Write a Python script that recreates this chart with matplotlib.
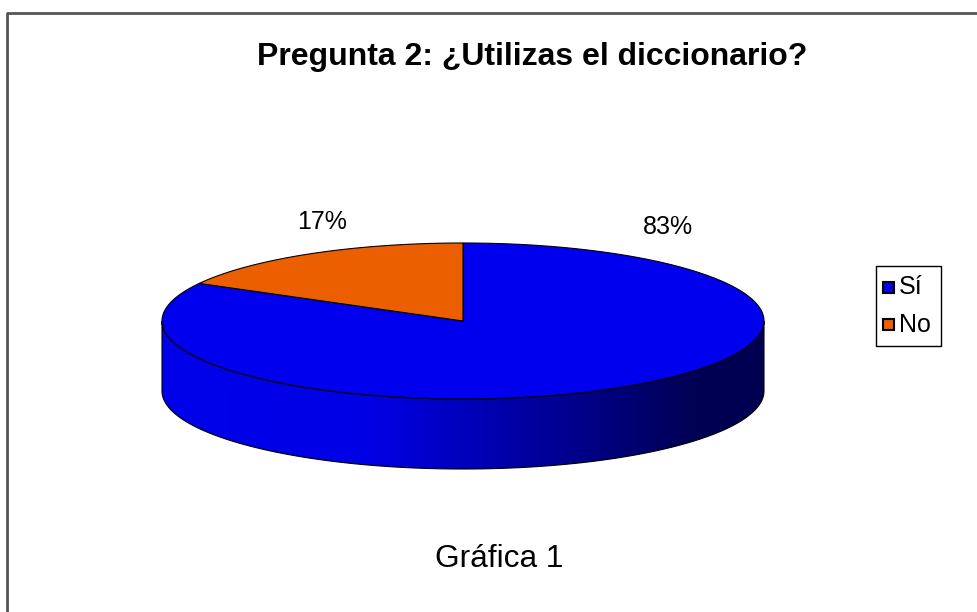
import numpy as np
import matplotlib
matplotlib.use("Agg")
import matplotlib.pyplot as plt
from matplotlib.patches import Polygon, Rectangle
from matplotlib.colors import LinearSegmentedColormap

plt.rcParams['font.family'] = ['Liberation Sans', 'DejaVu Sans']

# ---- data ----
categories = ["Sí", "No"]
values = [83, 17]
labels = ["83%", "17%"]
colors = ["#0000EE", "#EB5F00"]
title = "Pregunta 2: ¿Utilizas el diccionario?"
caption = "Gráfica 1"

W, H = 977, 612
fig = plt.figure(figsize=(W / 100, H / 100), dpi=100)
ax = fig.add_axes([0, 0, 1, 1])
ax.set_xlim(0, W)
ax.set_ylim(H, 0)
ax.axis("off")

# frame (left and top visible)
ax.plot([6.5, 6.5, W + 10], [H + 10, 12.5, 12.5], color="#555555", lw=2, solid_capstyle="butt")

# pie geometry (pixels)
cx, cy, a, b, depth = 463, 321, 301, 78, 70


def pt(theta_deg, dy=0.0):
    t = np.radians(theta_deg)
    return cx + a * np.cos(t), cy - b * np.sin(t) + dy


# angles: start at top (90°), Sí clockwise, No counter-clockwise from top
total = sum(values)
angles = {}
ang_no = values[1] / total * 360.0
angles["No"] = (90.0, 90.0 + ang_no)
angles["Sí"] = (90.0 + ang_no, 450.0)

# side (front half) with gradient
th = np.linspace(180, 360, 200)
top_x, top_y = pt(th)
bot_x, bot_y = pt(th[::-1], depth)
side_xy = np.column_stack([np.concatenate([top_x, bot_x]), np.concatenate([top_y, bot_y])])
side = Polygon(side_xy, closed=True, facecolor="none", edgecolor="black", lw=0.8, zorder=3)
ax.add_patch(side)
cmap = LinearSegmentedColormap.from_list(
    "side",
    [(0.0, (0, 0, 0.92)), (0.35, (0, 0, 0.90)), (0.5, (0, 0, 0.74)),
     (0.75, (0, 0, 0.48)), (0.88, (0, 0, 0.33)), (1.0, (0, 0, 0.32))])
grad = np.linspace(0, 1, 512).reshape(1, -1)
im = ax.imshow(grad, cmap=cmap, extent=[cx - a, cx + a, cy + b + depth, cy - 5],
               aspect="auto", zorder=2, interpolation="bilinear")
im.set_clip_path(side)

# top wedges
for cat, col in zip(categories, colors):
    t1, t2 = angles[cat]
    tt = np.linspace(t1, t2, 300)
    xs, ys = pt(tt)
    xy = np.column_stack([np.concatenate([[cx], xs]), np.concatenate([[cy], ys])])
    ax.add_patch(Polygon(xy, closed=True, facecolor=col, edgecolor="black", lw=0.8,
                         joinstyle="miter", zorder=4))

# percentage labels
label_pos = {"Sí": (668, 227), "No": (322, 222)}
for cat, lab in zip(categories, labels):
    x, y = label_pos[cat]
    ax.text(x, y, lab, fontsize=18, ha="center", va="center", zorder=5)

# title and caption
ax.text(532, 57, title, fontsize=23, fontweight="bold", ha="center", va="center")
ax.text(499, 559, caption, fontsize=22.8, ha="center", va="center")

# legend
ax.add_patch(Rectangle((875.5, 265.5), 65, 80, facecolor="white", edgecolor="black", lw=1, zorder=5))
for i, (cat, col) in enumerate(zip(categories, colors)):
    yy = 287.5 + i * 37
    ax.add_patch(Rectangle((883, yy - 5.5), 11, 11, facecolor=col, edgecolor="black", lw=1.5, zorder=6))
    ax.text(899, yy, cat, fontsize=18, ha="left", va="center", zorder=6)

fig.savefig("out.png", dpi=100)
